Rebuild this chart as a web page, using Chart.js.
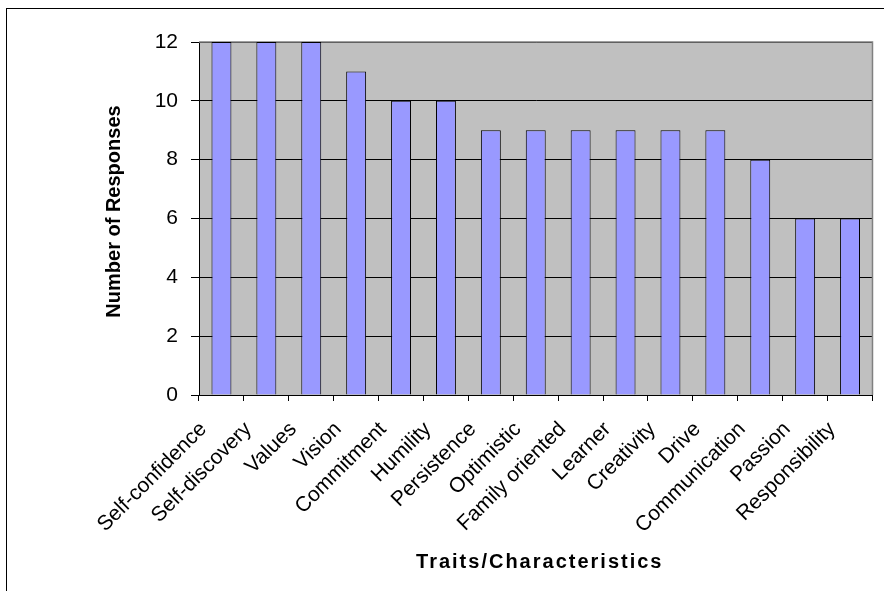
<!DOCTYPE html>
<html>
<head>
<meta charset="utf-8">
<script src="https://cdn.jsdelivr.net/npm/chart.js@4/dist/chart.umd.min.js"></script>
<style>
  html, body { margin: 0; padding: 0; background: #fff; }
  canvas { display: block; }
</style>
</head>
<body>
<canvas id="traitsChart" width="884" height="591"></canvas>
<script>
// Traits named by respondents and how often
const traits = ['Self-confidence', 'Self-discovery', 'Values', 'Vision', 'Commitment',
  'Humility', 'Persistence', 'Optimistic', 'Family oriented', 'Learner',
  'Creativity', 'Drive', 'Communication', 'Passion', 'Responsibility'];
const responses = [12, 12, 12, 11, 10, 10, 9, 9, 9, 9, 9, 9, 8, 6, 6];
const yTicks = [0, 2, 4, 6, 8, 10, 12];
const xTitle = 'Traits/Characteristics';
const yTitle = 'Number of Responses';

const FONT = 'Arial, "Liberation Sans", sans-serif';

// gray plot area, gray top/right edge, outer frame and the axis titles
const plotArea = {
  id: 'plotArea',
  beforeDraw(chart) {
    const { ctx, chartArea: a } = chart;
    ctx.save();
    ctx.fillStyle = '#fff';
    ctx.fillRect(0, 0, chart.width, chart.height);
    ctx.strokeStyle = '#000';
    ctx.lineWidth = 1;
    ctx.strokeRect(6.5, 8.5, chart.width + 10, chart.height + 10);
    ctx.fillStyle = '#c0c0c0';
    ctx.fillRect(a.left, a.top, a.right - a.left, a.bottom - a.top);
    ctx.restore();
  },
  beforeDatasetsDraw(chart) {
    const { ctx, chartArea: a } = chart;
    ctx.save();
    ctx.strokeStyle = '#808080';
    ctx.lineWidth = 1.5;
    ctx.beginPath();
    ctx.moveTo(a.left, a.top);
    ctx.lineTo(a.right, a.top);
    ctx.lineTo(a.right, a.bottom);
    ctx.stroke();
    ctx.restore();
  },
  afterDraw(chart) {
    const { ctx, chartArea: a } = chart;
    ctx.save();
    ctx.fillStyle = '#000';
    ctx.font = 'bold 20px ' + FONT;
    ctx.textAlign = 'center';
    ctx.textBaseline = 'middle';
    ctx.letterSpacing = '2px';
    ctx.fillText(xTitle, (a.left + a.right) / 2 + 4, 562);
    ctx.letterSpacing = '0px';
    ctx.translate(114, (a.top + a.bottom) / 2 - 7);
    ctx.rotate(-Math.PI / 2);
    ctx.fillText(yTitle, 0, 0);
    ctx.restore();
  }
};

new Chart(document.getElementById('traitsChart').getContext('2d'), {
  type: 'bar',
  data: {
    labels: traits,
    datasets: [{
      label: yTitle,
      data: responses,
      backgroundColor: '#9999ff',
      borderColor: '#000',
      borderWidth: 1,
      categoryPercentage: 1,
      barPercentage: 0.444
    }]
  },
  options: {
    responsive: false,
    devicePixelRatio: 1,
    animation: false,
    layout: { padding: { top: 42, right: 4, left: 0, bottom: 0 } },
    plugins: {
      legend: { display: false },
      tooltip: { enabled: false }
    },
    scales: {
      x: {
        afterFit: s => { s.height = 196; },
        grid: {
          drawOnChartArea: false,
          color: '#000',
          tickLength: 6,
          lineWidth: 1
        },
        border: { color: '#000', width: 1 },
        ticks: {
          color: '#000',
          font: { family: FONT, size: 21 },
          minRotation: 45,
          maxRotation: 45,
          autoSkip: false,
          labelOffset: -18,
          padding: 16
        }
      },
      y: {
        min: 0,
        max: 12,
        afterFit: s => { s.width = 199; },
        afterBuildTicks: s => { s.ticks = yTicks.map(v => ({ value: v })); },
        grid: {
          color: '#000',
          tickLength: 8,
          lineWidth: 1
        },
        border: { color: '#000', width: 1 },
        ticks: {
          color: '#000',
          font: { family: FONT, size: 21 },
          padding: 13
        }
      }
    }
  },
  plugins: [plotArea]
});
</script>
</body>
</html>
